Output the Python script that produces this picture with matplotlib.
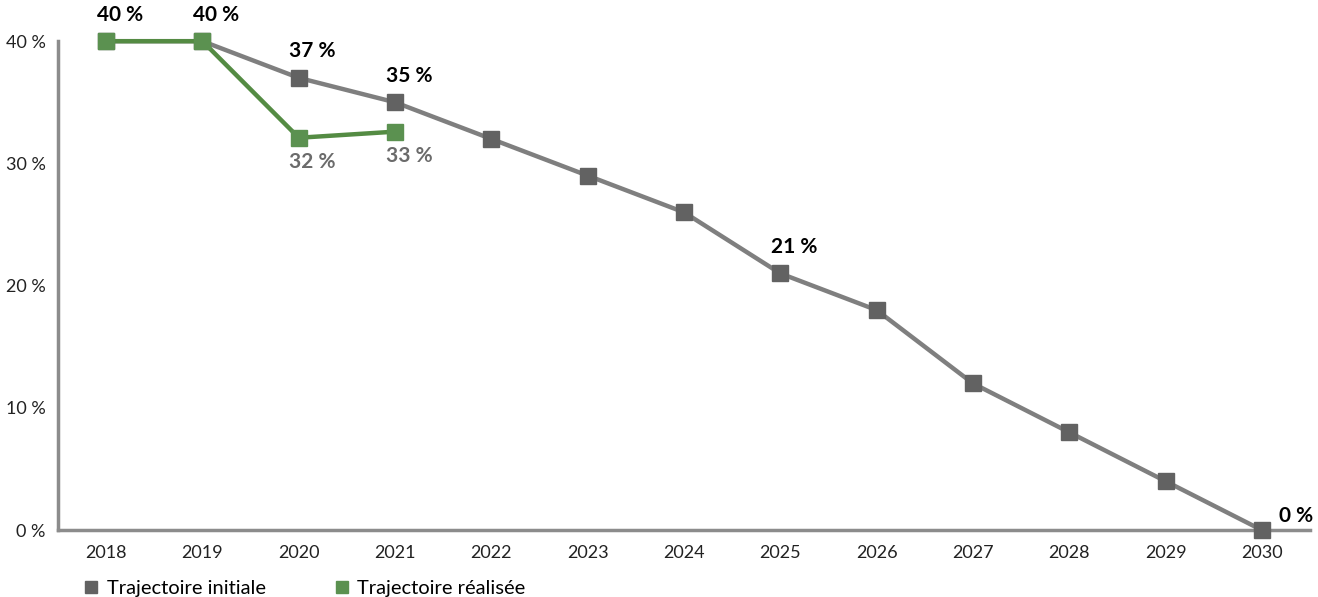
import matplotlib.pyplot as plt

plt.rcParams['font.family'] = ['Lato', 'DejaVu Sans']

years = [2018, 2019, 2020, 2021, 2022, 2023, 2024, 2025, 2026, 2027, 2028, 2029, 2030]
initiale = [40, 40, 37, 35, 32, 29, 26, 21, 18, 12, 8, 4, 0]
realisee_years = [2018, 2019, 2020, 2021]
realisee = [40, 40, 32.1, 32.6]
y_ticks = [0, 10, 20, 30, 40]

# points with a label
initiale_labels = [2018, 2019, 2020, 2021, 2025, 2030]
realisee_labels = [2020, 2021]

grey_line = '#7f7f7f'
grey_mark = '#626262'
green_line = '#548b43'
green_mark = '#5b9150'

fig = plt.figure(figsize=(13.18, 5.97), dpi=100)
ax = fig.add_axes([0.044, 0.112, 0.950, 0.819])

ax.plot(years, initiale, color=grey_line, lw=3.2, marker='s', ms=11,
        mfc=grey_mark, mec=grey_mark, clip_on=False, zorder=3,
        label='Trajectoire initiale')
ax.plot(realisee_years, realisee, color=green_line, lw=3.2, marker='s', ms=11,
        mfc=green_mark, mec=green_mark, clip_on=False, zorder=4,
        label='Trajectoire réalisée')

for x, v in zip(years, initiale):
    if x not in initiale_labels:
        continue
    if x == 2030:
        ax.annotate(f'{round(v)} %', (x, v), xytext=(12, 3), textcoords='offset points',
                    ha='left', va='bottom', fontsize=15, fontweight='bold', color='black')
    else:
        ax.annotate(f'{round(v)} %', (x, v), xytext=(10, 12), textcoords='offset points',
                    ha='center', va='bottom', fontsize=15, fontweight='bold', color='black')

for x, v in zip(realisee_years, realisee):
    if x in realisee_labels:
        ax.annotate(f'{round(v)} %', (x, v), xytext=(10, -10), textcoords='offset points',
                    ha='center', va='top', fontsize=15, fontweight='bold', color='#6b6b6b')

ax.set_xlim(2017.5, 2030.5)
ax.set_ylim(0, 40)
ax.set_xticks(years)
ax.set_yticks(y_ticks)
ax.set_yticklabels([f'{t} %' for t in y_ticks])
ax.tick_params(length=0, labelsize=13, colors='#222222')
ax.tick_params(axis='x', pad=11)
ax.tick_params(axis='y', pad=9)

for s in ['top', 'right']:
    ax.spines[s].set_visible(False)
for s in ['left', 'bottom']:
    ax.spines[s].set_color('#8c8c8c')
    ax.spines[s].set_linewidth(2.5)

handles = [plt.Line2D([], [], ls='none', marker='s', ms=9, mfc=grey_mark, mec=grey_mark),
           plt.Line2D([], [], ls='none', marker='s', ms=9, mfc=green_mark, mec=green_mark)]
fig.legend(handles, ['Trajectoire initiale', 'Trajectoire réalisée'], loc='lower left',
           bbox_to_anchor=(0.048, -0.03), ncol=2, frameon=False, fontsize=14.5,
           handletextpad=0.25, columnspacing=3.3, handlelength=1.0)

fig.savefig('out.png', dpi=100)
